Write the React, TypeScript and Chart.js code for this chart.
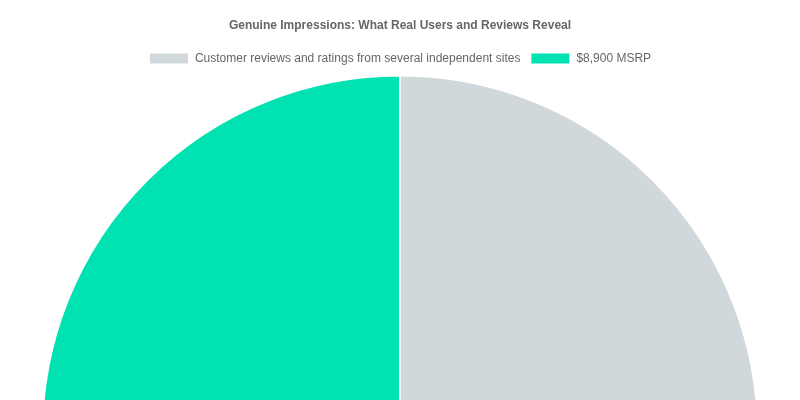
import React, { useEffect, useRef } from "react";
import { Chart, registerables } from "chart.js";

Chart.register(...registerables);

const labels = [
  "Customer reviews and ratings from several independent sites",
  "$8,900 MSRP",
];
const values = [50, 50];
const colors = ["#d1d8dc", "#00e2b1"];

const App: React.FC = () => {
  const chartRef = useRef<HTMLCanvasElement | null>(null);

  useEffect(() => {
    const ctx = chartRef.current?.getContext("2d");
    if (!ctx) return;

    Chart.defaults.font.family = "'Liberation Sans', Arial, Helvetica, sans-serif";
    Chart.defaults.color = "#666";

    const chart = new Chart(ctx, {
      type: "pie",
      data: {
        labels,
        datasets: [
          {
            data: values,
            backgroundColor: colors,
            borderColor: "#fff",
            borderWidth: 2,
          },
        ],
      },
      options: {
        animation: false,
        responsive: true,
        plugins: {
          title: {
            display: true,
            text: "Genuine Impressions: What Real Users and Reviews Reveal",
            font: { size: 12, weight: "bold" },
            color: "#666",
          },
          legend: {
            display: true,
            position: "top",
            labels: { font: { size: 12 }, color: "#666" },
          },
        },
      },
    });

    return () => {
      chart.destroy();
    };
  }, []);

  return (
    <div>
      <canvas ref={chartRef}></canvas>
    </div>
  );
};

export default App;
